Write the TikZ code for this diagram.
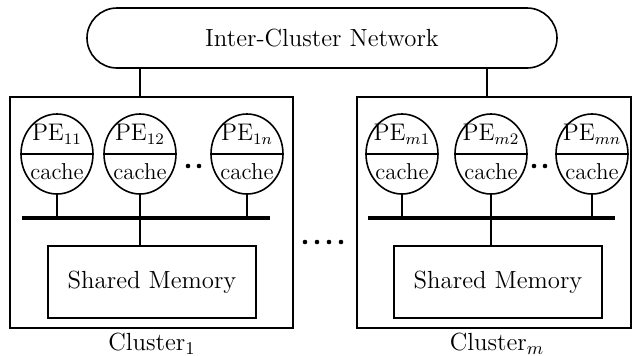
\documentclass[tikz,border=0pt]{standalone}
\usetikzlibrary{shapes.geometric}
\begin{document}
\begin{tikzpicture}[x=0.5pt,y=-0.5pt,
  line width=0.8pt,
  every node/.style={inner sep=0pt, outer sep=0pt},
  txt/.style={font=\fontsize{12.4}{14}\selectfont},
  petxt/.style={font=\fontsize{11.5}{13}\selectfont},
  net/.style={draw, rounded corners=15pt, minimum width=235pt, minimum height=30pt},
  clusterbox/.style={draw, minimum height=115.5pt},
  membox/.style={draw, minimum width=104pt, minimum height=36pt},
  pe/.style={draw, ellipse, minimum width=36pt, minimum height=40pt},
  bus/.style={line width=1.6pt},
  stub/.style={line width=0.9pt},
  dot/.style={fill, circle, minimum size=2.3pt}]
\useasboundingbox (0,0) rectangle (633,355);

% inter-cluster network
\node[net, txt] (net) at (322,38) {Inter-Cluster Network};

% cluster frames
\node[clusterbox, minimum width=141.5pt] (c1) at (151.5,212.5) {};
\node[clusterbox, minimum width=137pt] (cm) at (494,212.5) {};
\coordinate (c1top) at (140,97);
\coordinate (cmtop) at (487,97);
\draw (net.south -| c1top) -- (c1top);
\draw (net.south -| cmtop) -- (cmtop);

% processing elements with caches
\foreach \n/\x/\lab in {p11/57/{11}, p12/140/{12}, p1n/247/{1n}, pm1/402/{m1}, pm2/491/{m2}, pmn/592/{mn}}{
  \node[pe] (\n) at (\x,154) {};
  \draw (\n.west) -- (\n.east);
  \node[petxt] (\n t) at (\x,134) {$\mathrm{PE}_{\lab}$};
  \node[petxt] (\n c) at (\x,172) {cache};
}

% elision dots
\node[dot] (d1) at (188,166) {};
\node[dot] (d2) at (199,166) {};
\node[dot] (d3) at (534,166) {};
\node[dot] (d4) at (545,166) {};
\foreach \i/\x in {1/305,2/317,3/329,4/341}{ \node[dot] (e\i) at (\x,242) {}; }

% buses
\coordinate (b1l) at (22,218);  \coordinate (b1r) at (270,218);
\coordinate (bml) at (368,218); \coordinate (bmr) at (615,218);
\draw[bus] (b1l) -- (b1r);
\draw[bus] (bml) -- (bmr);
\foreach \n in {p11,p12,p1n}{ \draw[stub] (\n.south) -- (\n.south |- b1l); }
\foreach \n in {pm1,pm2,pmn}{ \draw[stub] (\n.south) -- (\n.south |- bml); }

% shared memories
\node[membox, txt] (m1) at (152,282) {Shared Memory};
\node[membox, txt] (mm) at (498,282) {Shared Memory};
\draw[stub] (m1.north -| p12) -- (p12.south |- b1l);
\draw[stub] (mm.north -| pm2) -- (pm2.south |- bml);

% cluster labels
\node[txt] (l1) at (152,344) {Cluster$_1$};
\node[txt] (lm) at (497,344) {Cluster$_m$};
\end{tikzpicture}
\end{document}
